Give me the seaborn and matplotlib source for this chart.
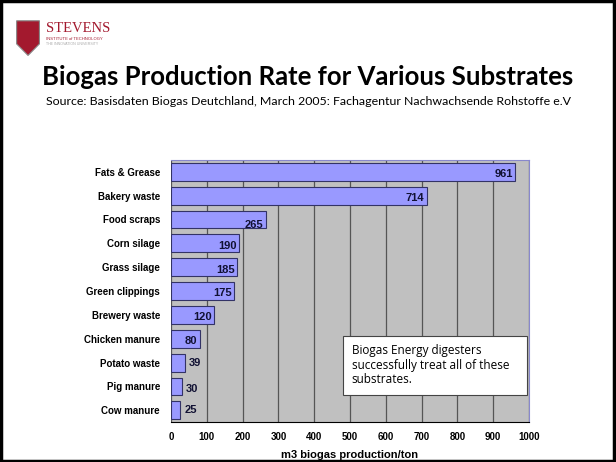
import matplotlib
matplotlib.use("Agg")
import matplotlib.pyplot as plt
import matplotlib.patches as mpatches
import seaborn as sns
import pandas as pd

substrates = ["Fats & Grease", "Bakery waste", "Food scraps", "Corn silage", "Grass silage",
              "Green clippings", "Brewery waste", "Chicken manure", "Potato waste",
              "Pig manure", "Cow manure"]
production = [961, 714, 265, 190, 185, 175, 120, 80, 39, 30, 25]
x_ticks = [0, 100, 200, 300, 400, 500, 600, 700, 800, 900, 1000]

df = pd.DataFrame({"Substrate": substrates, "Production": production})

sns.set_style("white")
plt.rcParams["font.family"] = ["Liberation Sans", "DejaVu Sans"]
plt.rcParams["text.color"] = "black"
plt.rcParams["xtick.color"] = "black"
plt.rcParams["ytick.color"] = "black"
plt.rcParams["axes.labelcolor"] = "black"

fig = plt.figure(figsize=(6.16, 4.62), dpi=100)
ax = fig.add_axes([0.2776, 0.086, 0.581, 0.568])
ax.set_facecolor("#C0C0C0")

sns.barplot(data=df, y="Substrate", x="Production", orient="h", color="#9999FF",
            edgecolor="#333366", linewidth=0.8, width=0.75, saturation=1, ax=ax, zorder=3)

ax.set_xlim(0, 1000)
ax.set_xticks(x_ticks)
ax.set_xticklabels([str(t) for t in x_ticks], fontsize=7, fontweight="bold")
ax.tick_params(axis="y", labelsize=7, length=0, pad=8)
for lbl in ax.get_yticklabels():
    lbl.set_fontweight("bold")
ax.tick_params(axis="x", length=3, pad=4)
ax.xaxis.grid(True, color="#555555", linewidth=0.9, zorder=0)
ax.set_axisbelow(True)
ax.set_ylabel("")
ax.set_xlabel("m3 biogas production/ton", fontsize=8, fontweight="bold", labelpad=6)
for s in ["top", "right"]:
    ax.spines[s].set_color("#8888CC")
ax.spines["left"].set_visible(False)
ax.spines["bottom"].set_color("black")

# value labels
for i, v in enumerate(production):
    if v >= 80:
        dy = 0.25 if v == 265 else 0.1
        ax.text(v - 6, i + dy, str(v), ha="right", va="center", fontsize=8,
                fontweight="bold", color="#111133", zorder=5)
    else:
        ax.text(v + 12, i + (0.1 if v == 30 else 0), str(v), ha="left", va="center",
                fontsize=8, fontweight="bold", color="#111133", zorder=5)

ax.add_patch(mpatches.Rectangle((0.48, 0.105), 0.515, 0.225, transform=ax.transAxes,
                                facecolor="white", edgecolor="#444444", linewidth=0.8, zorder=6))
ax.text(0.505, 0.218, "Biogas Energy digesters\nsuccessfully treat all of these\nsubstrates.",
        transform=ax.transAxes, ha="left", va="center", fontsize=8.5, linespacing=1.15,
        family=["Open Sans", "DejaVu Sans"], zorder=7)

# titles
fig.text(0.5, 0.833, "Biogas Production Rate for Various Substrates", ha="center", va="center",
         fontsize=18.5, fontweight="bold", family=["Lato", "DejaVu Sans"])
fig.text(0.5, 0.781, "Source: Basisdaten Biogas Deutchland, March 2005: Fachagentur Nachwachsende Rohstoffe e.V",
         ha="center", va="center", fontsize=8.9, family=["Lato", "DejaVu Sans"])

# logo
shield = mpatches.Polygon([[0.027, 0.955], [0.064, 0.955], [0.064, 0.905], [0.0455, 0.88],
                           [0.027, 0.905]], closed=True, transform=fig.transFigure,
                          facecolor="#A3192E", edgecolor="#888888", linewidth=0.8)
fig.patches.append(shield)
fig.text(0.075, 0.938, "STEVENS", ha="left", va="center", fontsize=10.5, color="#A3192E",
         family=["Liberation Serif", "DejaVu Serif"])
fig.text(0.075, 0.915, "INSTITUTE of TECHNOLOGY", ha="left", va="center", fontsize=3,
         color="#A3192E")
fig.text(0.075, 0.904, "THE INNOVATION UNIVERSITY", ha="left", va="center", fontsize=2.6,
         color="#AAAAAA")

# slide border
border = mpatches.Rectangle((0.002, 0.003), 0.994, 0.994, transform=fig.transFigure,
                            fill=False, edgecolor="black", linewidth=2.5)
fig.patches.append(border)

fig.savefig("out.png", dpi=100)
